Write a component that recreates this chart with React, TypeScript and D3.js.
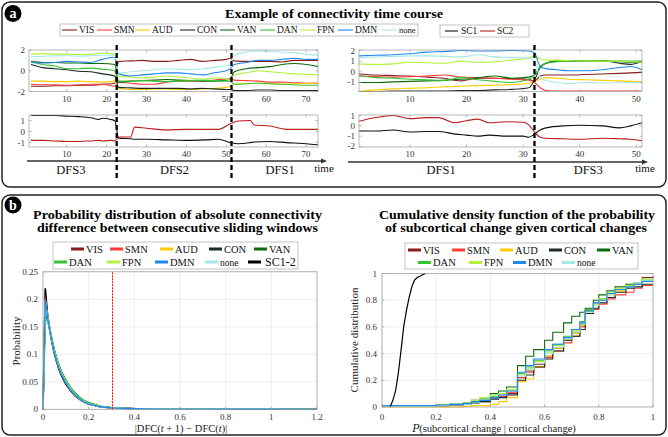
import React from 'react';
import * as d3 from 'd3';

const FONT = "'Liberation Serif', 'DejaVu Serif', serif";

const NETWORKS = ['VIS', 'SMN', 'AUD', 'CON', 'VAN', 'DAN', 'FPN', 'DMN', 'none'];
const NET_COLORS = ['#8b1c1c', '#ff3b3b', '#ffcc00', '#1c2b24', '#0b6b0b', '#33c433', '#b3f23c', '#1e88f0', '#a9e8ea'];

// ---------- Panel a, left (73 windows) ----------
const LEFT_T = [1, 4, 7, 10, 13, 16, 19, 22, 23, 26, 29, 32, 35, 38, 41, 44, 47, 50, 51, 52, 55, 58, 61, 64, 67, 70, 73];
const LEFT_VIS = [-1.5, -1.5, -1.45, -1.45, -1.4, -1.4, -1.3, -1.2, 0.9, 0.95, 1.0, 0.9, 0.9, 1.0, 1.1, 0.9, 1.0, 1.1, 1.2, 0.95, 0.9, 0.9, 0.9, 0.85, 1.0, 1.0, 1.0];
const LEFT_SMN = [-1.3, -1.35, -1.35, -1.4, -1.35, -1.3, -1.3, -1.5, -1.1, -1.2, -1.3, -1.3, -1.1, -1.0, -1.0, -1.0, -0.9, -0.8, -0.8, -0.9, -0.95, -1.0, -1.1, -1.1, -1.15, -1.2, -1.2];
const LEFT_AUD = [-1.0, -1.0, -1.05, -1.05, -1.0, -1.05, -1.1, -1.0, -1.7, -1.8, -1.8, -1.75, -1.75, -1.8, -1.8, -1.75, -1.7, -1.6, -1.5, -1.3, -1.25, -1.2, -1.25, -1.3, -1.25, -1.2, -1.2];
const LEFT_CON = [0.6, 0.3, 0.2, 0.1, -0.05, -0.1, -0.3, -0.5, -1.6, -1.65, -1.7, -1.7, -1.7, -1.7, -1.75, -1.7, -1.75, -1.8, -1.8, -1.9, -1.9, -1.85, -1.85, -1.9, -1.9, -1.9, -1.9];
const LEFT_VAN = [0.9, 0.8, 0.8, 0.75, 0.75, 0.7, 0.7, 0.6, -1.1, -1.0, -0.95, -0.9, -0.85, -0.9, -0.95, -1.0, -1.0, -0.9, -0.8, -0.1, 0.2, 0.3, 0.4, 0.6, 0.7, 0.6, 0.4];
const LEFT_DAN = [0.9, 0.6, 0.45, 0.2, 0.2, 0.25, 0.15, 0.0, -1.0, -1.0, -0.95, -1.0, -1.05, -1.0, -0.95, -0.9, -0.95, -1.0, -1.0, -1.3, -1.25, -1.2, -1.25, -1.3, -1.35, -1.4, -1.4];
const LEFT_FPN = [1.6, 1.65, 1.6, 1.6, 1.55, 1.6, 1.7, 1.6, -0.5, -0.6, -0.7, -0.6, -0.5, -0.6, -0.7, -0.8, -0.7, -0.8, -0.9, -0.4, -0.2, 0.0, -0.1, -0.2, -0.3, -0.35, -0.4];
const LEFT_DMN = [0.8, 0.75, 0.8, 0.9, 0.85, 0.8, 1.1, 1.3, -0.3, -0.5, -0.4, -0.3, -0.2, -0.2, -0.3, -0.4, -0.2, 0.0, 0.2, 0.6, 0.8, 1.0, 1.0, 1.1, 1.2, 1.1, 1.1];
const LEFT_NONE = [1.35, 1.4, 1.45, 1.45, 1.4, 1.45, 1.5, 1.5, -0.2, -0.1, 0.0, 0.1, 0.2, 0.15, 0.1, 0.2, 0.3, 0.5, 0.6, 1.5, 1.8, 1.9, 1.85, 1.8, 1.75, 1.6, 1.5];

const LEFT_SC_T = [1, 4, 7, 10, 13, 16, 18, 19, 21, 22, 23, 26, 27, 30, 35, 40, 45, 48, 51, 53, 56, 57, 61, 65, 70, 73];
const LEFT_SC1 = [1.45, 1.45, 1.45, 1.4, 1.35, 1.25, 1.1, 1.2, 1.1, 1.0, -0.6, -0.65, -0.7, -0.7, -0.75, -0.8, -0.75, -0.7, -1.0, -1.1, -1.0, -0.95, -0.9, -1.0, -1.1, -1.2];
const LEFT_SC2 = [-0.8, -0.8, -0.85, -0.9, -0.9, -0.85, -0.8, -0.85, -0.8, -0.85, -0.5, -0.5, 0.4, 0.3, 0.15, 0.2, 0.2, 0.2, 0.7, 0.95, 1.0, 0.6, 0.5, 0.2, 0.2, 0.2];

// ---------- Panel a, right (51 windows) ----------
const RIGHT_T = [1, 4, 7, 10, 13, 16, 19, 22, 25, 28, 31, 32, 33, 34, 36, 38, 41, 44, 47, 49, 51];
const RIGHT_VIS = [-0.2, -0.3, -0.35, -0.4, -0.5, -0.6, -0.85, -0.6, -0.6, -0.65, -0.7, -0.9, -0.4, -0.3, -0.3, -0.3, -0.25, -0.2, -0.15, -0.1, -0.05];
const RIGHT_SMN = [-0.4, -0.45, -0.5, -0.45, -0.4, -0.3, -0.5, -0.55, -0.6, -0.7, -0.8, -1.0, -1.5, -1.75, -1.8, -1.8, -1.8, -1.8, -1.8, -1.8, -1.8];
const RIGHT_AUD = [-1.85, -1.7, -1.6, -1.55, -1.5, -1.4, -1.35, -1.3, -1.25, -1.2, -1.1, -0.9, -0.7, -0.55, -0.6, -0.7, -0.75, -0.8, -0.85, -0.9, -0.95];
const RIGHT_CON = [-1.85, -1.85, -1.8, -1.8, -1.8, -1.8, -1.75, -1.75, -1.7, -1.65, -1.5, -0.8, 0.4, 0.8, 1.0, 1.0, 1.05, 1.05, 0.8, 0.7, 1.0];
const RIGHT_VAN = [-1.0, -1.0, -0.95, -0.9, -0.85, -0.8, -0.7, -0.55, -0.4, -0.6, -0.5, -0.3, 0.4, 0.8, 1.0, 1.0, 1.0, 1.0, 0.95, 0.9, 0.9];
const RIGHT_DAN = [-0.35, -0.55, -0.6, -0.7, -0.75, -0.8, -0.55, -0.75, -0.9, -1.0, -0.7, -0.3, 0.5, 0.8, 0.95, 1.0, 1.05, 1.0, 1.0, 1.0, 1.0];
const RIGHT_FPN = [0.75, 0.7, 0.75, 0.9, 0.85, 0.8, 1.0, 0.9, 0.95, 1.1, 1.3, 1.5, 1.2, 1.1, 1.1, 1.05, 1.0, 1.0, 1.0, 0.95, 0.9];
const RIGHT_DMN = [1.5, 1.55, 1.6, 1.7, 1.85, 1.9, 2.0, 1.95, 1.95, 2.0, 1.95, 1.8, 0.5, 0.3, 0.2, 0.1, 0.1, 0.2, 0.4, 0.5, 0.2];
const RIGHT_NONE = [1.3, 1.4, 1.45, 1.5, 1.5, 1.45, 1.4, 1.6, 1.4, 1.35, 1.3, 1.0, -0.5, -0.8, -1.0, -1.1, -1.0, -1.05, -1.0, -1.0, -1.0];

const RIGHT_SC_T = [1, 4, 7, 10, 13, 15, 18, 20, 22, 24, 27, 30, 31, 32, 33, 34, 37, 40, 44, 47, 49, 51];
const RIGHT_SC1 = [-0.5, -0.5, -0.4, -0.6, -0.55, -0.55, -0.8, -0.9, -1.0, -0.9, -1.0, -1.0, -1.1, -0.8, -0.4, -0.2, 0.0, 0.05, 0.0, -0.2, 0.0, 0.3];
const RIGHT_SC2 = [0.45, 0.8, 1.0, 0.7, 0.8, 0.8, 0.3, 0.5, 0.65, 0.3, 0.4, 0.35, 0.1, -0.6, -1.1, -1.2, -1.25, -1.3, -1.2, -1.25, -1.3, -1.45];

const LEFT_X_TICKS = [10, 20, 30, 40, 50, 60, 70];
const RIGHT_X_TICKS = [10, 20, 30, 40, 50];
const LEFT_TOP_Y_TICKS = [2, 0, -2];
const LEFT_BOT_Y_TICKS = [1, 0, -1];
const RIGHT_TOP_Y_TICKS = [2, 1, 0, -1];
const RIGHT_BOT_Y_TICKS = [1, 0, -1, -2];
const LEFT_DASHES = [22.5, 51.3];
const RIGHT_DASHES = [32];
const LEFT_STATES = [{ label: 'DFS3', t: 11 }, { label: 'DFS2', t: 37 }, { label: 'DFS1', t: 63.5 }];
const RIGHT_STATES = [{ label: 'DFS1', t: 15.5 }, { label: 'DFS3', t: 41.5 }];

// ---------- Panel b, left: PDF ----------
const PDF_X = [0, 0.01, 0.02, 0.03, 0.04, 0.05, 0.06, 0.07, 0.08, 0.1, 0.12, 0.14, 0.16, 0.18, 0.2, 0.25, 0.3, 0.4, 0.5, 0.6, 0.8, 1.0, 1.2];
const PDF_SC12 = [0, 0.220, 0.172, 0.143, 0.120, 0.101, 0.086, 0.073, 0.062, 0.046, 0.034, 0.025, 0.018, 0.013, 0.0095, 0.0045, 0.0025, 0.0009, 0.0004, 0.0002, 0.0001, 0.00005, 0];
const PDF_VIS = [0, 0.205, 0.170, 0.145, 0.123, 0.104, 0.089, 0.076, 0.065, 0.049, 0.036, 0.026, 0.019, 0.014, 0.010, 0.0048, 0.0026, 0.001, 0.0005, 0.0002, 0.0001, 0.00005, 0];
const PDF_SMN = [0, 0.195, 0.168, 0.146, 0.124, 0.105, 0.090, 0.077, 0.066, 0.050, 0.037, 0.027, 0.020, 0.014, 0.010, 0.005, 0.0027, 0.001, 0.0005, 0.0002, 0.0001, 0.00005, 0];
const PDF_AUD = [0, 0.200, 0.169, 0.145, 0.123, 0.104, 0.089, 0.076, 0.065, 0.049, 0.036, 0.026, 0.019, 0.014, 0.010, 0.0048, 0.0026, 0.001, 0.0005, 0.0002, 0.0001, 0.00005, 0];
const PDF_CON = [0, 0.180, 0.165, 0.146, 0.125, 0.106, 0.091, 0.078, 0.067, 0.051, 0.038, 0.028, 0.021, 0.015, 0.011, 0.0052, 0.0028, 0.0011, 0.0005, 0.0002, 0.0001, 0.00005, 0];
const PDF_VAN = [0, 0.170, 0.162, 0.146, 0.126, 0.108, 0.093, 0.080, 0.069, 0.053, 0.040, 0.030, 0.022, 0.016, 0.012, 0.0056, 0.003, 0.0012, 0.0006, 0.0003, 0.0001, 0.00005, 0];
const PDF_DAN = [0, 0.165, 0.160, 0.145, 0.126, 0.108, 0.093, 0.080, 0.069, 0.053, 0.040, 0.030, 0.022, 0.016, 0.012, 0.0055, 0.003, 0.0012, 0.0006, 0.0003, 0.0001, 0.00005, 0];
const PDF_FPN = [0, 0.198, 0.170, 0.146, 0.124, 0.105, 0.090, 0.077, 0.066, 0.050, 0.037, 0.027, 0.020, 0.014, 0.010, 0.005, 0.0027, 0.001, 0.0005, 0.0002, 0.0001, 0.00005, 0];
const PDF_DMN = [0, 0.200, 0.168, 0.144, 0.122, 0.103, 0.088, 0.075, 0.064, 0.048, 0.035, 0.026, 0.019, 0.013, 0.0095, 0.0046, 0.0025, 0.001, 0.0004, 0.0002, 0.0001, 0.00005, 0];
const PDF_NONE = [0, 0.190, 0.166, 0.145, 0.123, 0.104, 0.089, 0.076, 0.065, 0.049, 0.036, 0.026, 0.019, 0.014, 0.010, 0.0048, 0.0026, 0.001, 0.0005, 0.0002, 0.0001, 0.00005, 0];
const PDF_THRESHOLD = 0.3;
const PDF_X_TICKS = [0, 0.2, 0.4, 0.6, 0.8, 1, 1.2];
const PDF_Y_TICKS = [0, 0.05, 0.1, 0.15, 0.2, 0.25];

// ---------- Panel b, right: CDF ----------
const CDF_X = [0, 0.1, 0.2, 0.25, 0.3, 0.33, 0.36, 0.4, 0.43, 0.46, 0.5, 0.53, 0.56, 0.6, 0.63, 0.67, 0.7, 0.73, 0.75, 0.78, 0.8, 0.83, 0.86, 0.9, 0.93, 0.96, 1.0];
const CDF_VIS = [0.005, 0.005, 0.01, 0.015, 0.02, 0.03, 0.04, 0.06, 0.08, 0.1, 0.22, 0.27, 0.32, 0.38, 0.44, 0.5, 0.56, 0.62, 0.72, 0.76, 0.8, 0.85, 0.88, 0.9, 0.93, 0.97, 0.98];
const CDF_SMN = [0.005, 0.005, 0.01, 0.015, 0.02, 0.03, 0.05, 0.07, 0.08, 0.11, 0.22, 0.26, 0.3, 0.37, 0.42, 0.48, 0.53, 0.6, 0.7, 0.73, 0.77, 0.81, 0.84, 0.86, 0.89, 0.91, 0.91];
const CDF_AUD = [0, 0, 0, 0, 0.005, 0.01, 0.01, 0.02, 0.04, 0.07, 0.19, 0.21, 0.3, 0.38, 0.44, 0.5, 0.55, 0.61, 0.72, 0.76, 0.8, 0.84, 0.87, 0.9, 0.92, 0.94, 0.94];
const CDF_CON = [0.005, 0.005, 0.01, 0.015, 0.02, 0.03, 0.04, 0.06, 0.07, 0.09, 0.2, 0.24, 0.3, 0.36, 0.42, 0.5, 0.53, 0.58, 0.7, 0.74, 0.78, 0.82, 0.86, 0.89, 0.9, 0.92, 0.92];
const CDF_VAN = [0.01, 0.01, 0.015, 0.02, 0.03, 0.05, 0.07, 0.1, 0.12, 0.15, 0.31, 0.38, 0.43, 0.5, 0.56, 0.63, 0.68, 0.71, 0.74, 0.8, 0.84, 0.87, 0.9, 0.92, 0.93, 0.95, 0.95];
const CDF_DAN = [0.01, 0.01, 0.015, 0.02, 0.03, 0.04, 0.06, 0.08, 0.1, 0.13, 0.25, 0.3, 0.35, 0.42, 0.47, 0.53, 0.58, 0.64, 0.73, 0.78, 0.81, 0.85, 0.88, 0.9, 0.92, 0.95, 0.95];
const CDF_FPN = [0.005, 0.01, 0.015, 0.02, 0.03, 0.05, 0.07, 0.09, 0.1, 0.13, 0.24, 0.29, 0.34, 0.41, 0.46, 0.52, 0.57, 0.63, 0.72, 0.77, 0.81, 0.86, 0.89, 0.91, 0.93, 0.96, 0.96];
const CDF_DMN = [0.01, 0.01, 0.015, 0.02, 0.025, 0.04, 0.05, 0.07, 0.09, 0.12, 0.26, 0.31, 0.36, 0.43, 0.47, 0.52, 0.58, 0.63, 0.72, 0.78, 0.8, 0.85, 0.88, 0.9, 0.92, 0.94, 0.94];
const CDF_NONE = [0.005, 0.005, 0.01, 0.015, 0.02, 0.03, 0.05, 0.07, 0.09, 0.12, 0.23, 0.28, 0.33, 0.4, 0.45, 0.51, 0.56, 0.62, 0.71, 0.76, 0.8, 0.84, 0.88, 0.9, 0.93, 0.95, 0.96];
const CDF_SC_X = [0.03, 0.04, 0.05, 0.06, 0.07, 0.08, 0.09, 0.1, 0.11, 0.12, 0.13, 0.14, 0.15, 0.16];
const CDF_SC = [0, 0.05, 0.12, 0.25, 0.42, 0.6, 0.72, 0.82, 0.9, 0.95, 0.97, 0.98, 0.99, 1.0];
const CDF_X_TICKS = [0, 0.2, 0.4, 0.6, 0.8, 1];
const CDF_Y_TICKS = [0, 0.2, 0.4, 0.6, 0.8, 1];

const LEFT_SERIES = [LEFT_VIS, LEFT_SMN, LEFT_AUD, LEFT_CON, LEFT_VAN, LEFT_DAN, LEFT_FPN, LEFT_DMN, LEFT_NONE];
const RIGHT_SERIES = [RIGHT_VIS, RIGHT_SMN, RIGHT_AUD, RIGHT_CON, RIGHT_VAN, RIGHT_DAN, RIGHT_FPN, RIGHT_DMN, RIGHT_NONE];
const PDF_SERIES = [PDF_VIS, PDF_SMN, PDF_AUD, PDF_CON, PDF_VAN, PDF_DAN, PDF_FPN, PDF_DMN, PDF_NONE];
const CDF_SERIES = [CDF_VIS, CDF_SMN, CDF_AUD, CDF_CON, CDF_VAN, CDF_DAN, CDF_FPN, CDF_DMN, CDF_NONE];

const SC1_COLOR = '#111111';
const SC2_COLOR = '#b8201e';
const AXIS_COLOR = '#9a9a9a';
const TICK_TEXT = '#333333';
const GRID = '#e8e8e8';

const fmt = (v: number) => (v < 0 ? '-' + Math.abs(v) : String(v));

type Line = { t: number[]; v: number[]; color: string; w?: number };

function TimeAxes(props: {
  id: string; x0: number; x1: number; y0: number; y1: number;
  xDom: [number, number]; yDom: [number, number];
  xTicks: number[]; yTicks: number[]; lines: Line[]; xLabelY: number;
}) {
  const { id, x0, x1, y0, y1, xDom, yDom, xTicks, yTicks, lines, xLabelY } = props;
  const xs = d3.scaleLinear().domain(xDom).range([x0, x1]);
  const ys = d3.scaleLinear().domain(yDom).range([y1, y0]);
  return (
    <g>
      <clipPath id={id}><rect x={x0} y={y0} width={x1 - x0} height={y1 - y0} /></clipPath>
      <rect x={x0} y={y0} width={x1 - x0} height={y1 - y0} fill="#fff" stroke="none" />
      <g clipPath={`url(#${id})`}>
        {lines.map((l, i) => {
          const gen = d3.line<number>().x((_, j) => xs(l.t[j])).y((d) => ys(d)).curve(d3.curveMonotoneX);
          return <path key={i} d={gen(l.v) || ''} fill="none" stroke={l.color} strokeWidth={l.w ?? 1.1} />;
        })}
      </g>
      <rect x={x0} y={y0} width={x1 - x0} height={y1 - y0} fill="none" stroke={AXIS_COLOR} strokeWidth={0.7} />
      {xTicks.map((t) => (
        <g key={'x' + t}>
          <line x1={xs(t)} x2={xs(t)} y1={y1} y2={y1 - 2.5} stroke={AXIS_COLOR} strokeWidth={0.7} />
          <line x1={xs(t)} x2={xs(t)} y1={y0} y2={y0 + 2.5} stroke={AXIS_COLOR} strokeWidth={0.7} />
          <text x={xs(t)} y={xLabelY} textAnchor="middle" fontSize={9} fill={TICK_TEXT}>{t}</text>
        </g>
      ))}
      {yTicks.map((t) => (
        <g key={'y' + t}>
          <line x1={x0} x2={x0 + 2.5} y1={ys(t)} y2={ys(t)} stroke={AXIS_COLOR} strokeWidth={0.7} />
          <line x1={x1} x2={x1 - 2.5} y1={ys(t)} y2={ys(t)} stroke={AXIS_COLOR} strokeWidth={0.7} />
          <text x={x0 - 4} y={ys(t) + 3} textAnchor="end" fontSize={9} fill={TICK_TEXT}>{fmt(t)}</text>
        </g>
      ))}
    </g>
  );
}

function TimePanel(props: {
  idp: string; x0: number; x1: number; xDom: [number, number];
  topDom: [number, number]; botDom: [number, number];
  xTicks: number[]; topYTicks: number[]; botYTicks: number[];
  t: number[]; series: number[][]; scT: number[]; sc1: number[]; sc2: number[];
  dashes: number[]; states: { label: string; t: number }[]; arrow: [number, number]; arrowY: number;
}) {
  const p = props;
  const xs = d3.scaleLinear().domain(p.xDom).range([p.x0, p.x1]);
  const topLines: Line[] = p.series.map((v, i) => ({ t: p.t, v, color: NET_COLORS[i] }));
  const botLines: Line[] = [
    { t: p.scT, v: p.sc1, color: SC1_COLOR },
    { t: p.scT, v: p.sc2, color: SC2_COLOR },
  ];
  return (
    <g>
      <TimeAxes id={p.idp + 't'} x0={p.x0} x1={p.x1} y0={50} y1={91.5} xDom={p.xDom} yDom={p.topDom}
        xTicks={p.xTicks} yTicks={p.topYTicks} lines={topLines} xLabelY={102} />
      <TimeAxes id={p.idp + 'b'} x0={p.x0} x1={p.x1} y0={115} y1={147} xDom={p.xDom} yDom={p.botDom}
        xTicks={p.xTicks} yTicks={p.botYTicks} lines={botLines} xLabelY={157} />
      <line x1={p.arrow[0]} x2={p.arrow[1] - 4} y1={p.arrowY} y2={p.arrowY} stroke="#333" strokeWidth={1.4} />
      <path d={`M${p.arrow[1]},${p.arrowY} l-6,-2.6 l0,5.2 z`} fill="#333" />
      <text x={p.arrow[1] - 3} y={171.5} textAnchor="middle" fontSize={11} fill="#111">time</text>
      {p.dashes.map((d) => (
        <line key={d} x1={xs(d)} x2={xs(d)} y1={45} y2={179} stroke="#000" strokeWidth={2.3} strokeDasharray="5,3" />
      ))}
      {p.states.map((s) => (
        <text key={s.label} x={xs(s.t)} y={174} textAnchor="middle" fontSize={12.5} fill="#111">{s.label}</text>
      ))}
    </g>
  );
}

function PlotAxes(props: {
  id: string; x0: number; x1: number; y0: number; y1: number;
  xDom: [number, number]; yDom: [number, number]; xTicks: number[]; yTicks: number[];
  children: (xs: d3.ScaleLinear<number, number>, ys: d3.ScaleLinear<number, number>) => React.ReactNode;
}) {
  const { id, x0, x1, y0, y1, xDom, yDom, xTicks, yTicks } = props;
  const xs = d3.scaleLinear().domain(xDom).range([x0, x1]);
  const ys = d3.scaleLinear().domain(yDom).range([y1, y0]);
  return (
    <g>
      <clipPath id={id}><rect x={x0 - 1} y={y0 - 1} width={x1 - x0 + 2} height={y1 - y0 + 2} /></clipPath>
      {xTicks.map((t) => (
        <line key={'gx' + t} x1={xs(t)} x2={xs(t)} y1={y0} y2={y1} stroke={GRID} strokeWidth={0.8} />
      ))}
      {yTicks.map((t) => (
        <line key={'gy' + t} x1={x0} x2={x1} y1={ys(t)} y2={ys(t)} stroke={GRID} strokeWidth={0.8} />
      ))}
      <g clipPath={`url(#${id})`}>{props.children(xs, ys)}</g>
      <rect x={x0} y={y0} width={x1 - x0} height={y1 - y0} fill="none" stroke={AXIS_COLOR} strokeWidth={0.7} />
      {xTicks.map((t) => (
        <g key={'x' + t}>
          <line x1={xs(t)} x2={xs(t)} y1={y1} y2={y1 - 2.5} stroke={AXIS_COLOR} strokeWidth={0.7} />
          <text x={xs(t)} y={420} textAnchor="middle" fontSize={9} fill={TICK_TEXT}>{String(t)}</text>
        </g>
      ))}
      {yTicks.map((t) => (
        <g key={'y' + t}>
          <line x1={x0} x2={x0 + 2.5} y1={ys(t)} y2={ys(t)} stroke={AXIS_COLOR} strokeWidth={0.7} />
          <text x={x0 - 5} y={ys(t) + 3} textAnchor="end" fontSize={9} fill={TICK_TEXT}>{String(t)}</text>
        </g>
      ))}
    </g>
  );
}

function Badge({ x, y, label }: { x: number; y: number; label: string }) {
  return (
    <g>
      <circle cx={x} cy={y} r={8.5} fill="#000" />
      <text x={x} y={y + 4.5} textAnchor="middle" fontSize={14} fontWeight="bold" fill="#fff">{label}</text>
    </g>
  );
}

const LEG_A_X = [62, 97, 135, 180, 220, 260, 300, 338, 382];
const LEG_BL_ROW1 = [71, 110, 160, 209, 254];
const LEG_BL_ROW2 = [54, 107, 155, 205];
const LEG_BR_ROW1 = [408, 452, 500, 549, 597];
const LEG_BR_ROW2 = [418, 469, 513, 562];

function LegendB({ row1, row2, y1, y2 }: { row1: number[]; row2: number[]; y1: number; y2: number }) {
  const items = NETWORKS.map((n, i) => ({
    n, c: NET_COLORS[i], x: i < 5 ? row1[i] : row2[i - 5], y: i < 5 ? y1 : y2,
  }));
  return (
    <g>
      {items.map((it) => (
        <g key={it.n}>
          <line x1={it.x} x2={it.x + 13} y1={it.y} y2={it.y} stroke={it.c} strokeWidth={3} />
          <text x={it.x + 15} y={it.y + 3.5} fontSize={it.n === 'none' ? 9.5 : 10.5} fill="#111">{it.n}</text>
        </g>
      ))}
    </g>
  );
}

export default function App() {
  const pdfLines = PDF_SERIES.map((v, i) => ({ v, c: NET_COLORS[i] }));
  const order = [0, 1, 2, 3, 4, 5, 6, 8, 7];
  return (
    <svg width={668} height={437} style={{ position: 'absolute', left: 0, top: 0, background: '#fff' }} fontFamily={FONT}>
      {/* Panel frames */}
      <rect x={2} y={2} width={664} height={185} rx={8} fill="#fff" stroke="#222" strokeWidth={1.5} />
      <rect x={2} y={195} width={664} height={240} rx={8} fill="#fff" stroke="#222" strokeWidth={1.5} />
      <Badge x={13} y={13.5} label="a" />
      <Badge x={13} y={205} label="b" />

      {/* Panel a */}
      <text x={334} y={17.5} textAnchor="middle" fontSize={12.5} fontWeight="bold" textLength={218} lengthAdjust="spacingAndGlyphs">Example of connectivity time course</text>
      <rect x={60} y={24} width={358} height={12} fill="#fff" stroke="#aaa" strokeWidth={0.7} />
      {NETWORKS.map((n, i) => (
        <g key={n}>
          <line x1={LEG_A_X[i]} x2={LEG_A_X[i] + 15} y1={30} y2={30} stroke={NET_COLORS[i]} strokeWidth={1.1} />
          <text x={LEG_A_X[i] + 17} y={33.3} fontSize={n === 'none' ? 8.5 : 9.5} fill="#111">{n}</text>
        </g>
      ))}
      <rect x={440} y={25} width={89} height={12} fill="#fff" stroke="#aaa" strokeWidth={0.7} />
      <line x1={445} x2={458} y1={31} y2={31} stroke={SC1_COLOR} strokeWidth={1.1} />
      <text x={461} y={34.3} fontSize={9.5} fill="#111">SC1</text>
      <line x1={480} x2={495} y1={31} y2={31} stroke={SC2_COLOR} strokeWidth={1.1} />
      <text x={497} y={34.3} fontSize={9.5} fill="#111">SC2</text>

      <TimePanel idp="L" x0={29} x1={318} xDom={[0.5, 73]} topDom={[-2, 2]} botDom={[-1.4, 1.5]}
        xTicks={LEFT_X_TICKS} topYTicks={LEFT_TOP_Y_TICKS} botYTicks={LEFT_BOT_Y_TICKS}
        t={LEFT_T} series={LEFT_SERIES} scT={LEFT_SC_T} sc1={LEFT_SC1} sc2={LEFT_SC2}
        dashes={LEFT_DASHES} states={LEFT_STATES} arrow={[27, 327]} arrowY={161} />
      <TimePanel idp="R" x0={359} x1={642} xDom={[1, 51]} topDom={[-1.85, 2.05]} botDom={[-2.05, 1.05]}
        xTicks={RIGHT_X_TICKS} topYTicks={RIGHT_TOP_Y_TICKS} botYTicks={RIGHT_BOT_Y_TICKS}
        t={RIGHT_T} series={RIGHT_SERIES} scT={RIGHT_SC_T} sc1={RIGHT_SC1} sc2={RIGHT_SC2}
        dashes={RIGHT_DASHES} states={RIGHT_STATES} arrow={[348, 648]} arrowY={162} />

      {/* Panel b left */}
      <text x={177.5} y={218.5} textAnchor="middle" fontSize={12} fontWeight="bold" textLength={289} lengthAdjust="spacingAndGlyphs">Probability distribution of absolute connectivity</text>
      <text x={177.5} y={231.5} textAnchor="middle" fontSize={12} fontWeight="bold" textLength={281} lengthAdjust="spacingAndGlyphs">difference between consecutive sliding windows</text>
      <PlotAxes id="pdf" x0={43} x1={317} y0={271.8} y1={409.3} xDom={[0, 1.2]} yDom={[0, 0.25]} xTicks={PDF_X_TICKS} yTicks={PDF_Y_TICKS}>
        {(xs, ys) => {
          const gen = d3.line<number>().x((_, j) => xs(PDF_X[j])).y((d) => ys(d));
          return (
            <g>
              <path d={gen(PDF_SC12) || ''} fill="none" stroke="#000" strokeWidth={1.6} />
              {order.map((i) => (
                <path key={i} d={gen(pdfLines[i].v) || ''} fill="none" stroke={pdfLines[i].c} strokeWidth={1.3} />
              ))}
              <line x1={Math.round(xs(PDF_THRESHOLD)) + 0.5} x2={Math.round(xs(PDF_THRESHOLD)) + 0.5} y1={ys(0)} y2={ys(0.25)} stroke="#ff0000" strokeWidth={1} strokeDasharray="2,1" />
            </g>
          );
        }}
      </PlotAxes>
      <rect x={53} y={242} width={245} height={27} fill="#fff" stroke="#aaa" strokeWidth={0.7} />
      <LegendB row1={LEG_BL_ROW1} row2={LEG_BL_ROW2} y1={249} y2={262} />
      <line x1={248} x2={261} y1={262} y2={262} stroke="#000" strokeWidth={3} />
      <text x={265} y={266} fontSize={12} fill="#111">SC1-2</text>
      <text transform="translate(20,341) rotate(-90)" textAnchor="middle" fontSize={11} fill="#222">Probability</text>
      <text x={181} y={431.5} textAnchor="middle" fontSize={10.5} fill="#222">
        |DFC(<tspan fontStyle="italic">t</tspan> + 1) − DFC(<tspan fontStyle="italic">t</tspan>)|
      </text>

      {/* Panel b right */}
      <text x={517} y={218.5} textAnchor="middle" fontSize={12} fontWeight="bold" textLength={276} lengthAdjust="spacingAndGlyphs">Cumulative density function of the probability</text>
      <text x={516} y={231.5} textAnchor="middle" fontSize={12} fontWeight="bold" textLength={262} lengthAdjust="spacingAndGlyphs">of subcortical change given cortical changes</text>
      <PlotAxes id="cdf" x0={382} x1={653} y0={273.5} y1={407} xDom={[0, 1]} yDom={[0, 1]} xTicks={CDF_X_TICKS} yTicks={CDF_Y_TICKS}>
        {(xs, ys) => {
          const gen = d3.line<number>().x((_, j) => xs(CDF_X[j])).y((d) => ys(d)).curve(d3.curveStepAfter);
          const scGen = d3.line<number>().x((_, j) => xs(CDF_SC_X[j])).y((d) => ys(d));
          return (
            <g>
              {order.map((i) => (
                <path key={i} d={gen(CDF_SERIES[i]) || ''} fill="none" stroke={NET_COLORS[i]} strokeWidth={1.1} />
              ))}
              <path d={scGen(CDF_SC) || ''} fill="none" stroke="#000" strokeWidth={1.2} />
            </g>
          );
        }}
      </PlotAxes>
      <rect x={405} y={243} width={233} height={26} fill="#fff" stroke="#aaa" strokeWidth={0.7} />
      <LegendB row1={LEG_BR_ROW1} row2={LEG_BR_ROW2} y1={250} y2={262.5} />
      <text transform="translate(358,340) rotate(-90)" textAnchor="middle" fontSize={11} fill="#222">Cumulative distribution</text>
      <text x={494} y={431.5} textAnchor="middle" fontSize={10.5} fill="#222">
        <tspan fontStyle="italic" fontFamily="'DejaVu Serif', serif">P</tspan>(subcortical change | cortical change)
      </text>
    </svg>
  );
}
